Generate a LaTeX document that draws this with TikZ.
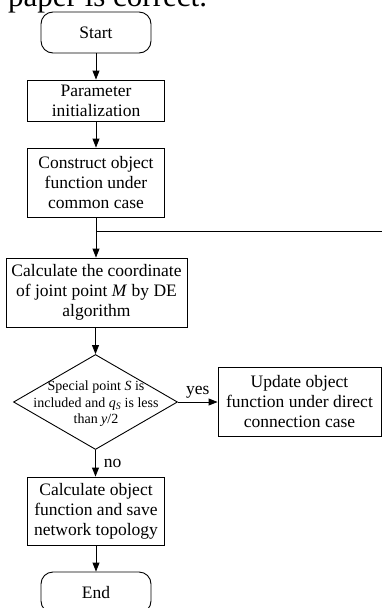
\documentclass[tikz,border=0pt]{standalone}
\usepackage{fontspec}
\setmainfont{Liberation Serif}
\usetikzlibrary{arrows.meta,shapes.geometric}
\begin{document}
\begin{tikzpicture}[x=1pt,y=-1pt,
  every node/.style={font=\fontsize{17.5}{20}\selectfont, align=center, inner sep=0pt},
  box/.style={draw, line width=0.9pt, rectangle},
  term/.style={draw, line width=0.9pt, rectangle, rounded corners=12pt, minimum width=110pt, minimum height=41pt},
  flow/.style={line width=0.9pt, -{Triangle[length=9pt,width=7pt]}},
  plain/.style={line width=0.9pt}]
\clip (0,0) rectangle (382,608);
\node[anchor=base west, font=\fontsize{31}{36}\selectfont] (title) at (8,6) {paper is correct.};
\node[term] (start) at (96,32.5) {Start};
\node[box, minimum width=137pt, minimum height=41pt] (param) at (96,100.5) {Parameter\\initialization};
\node[box, minimum width=137pt, minimum height=69pt] (cons) at (96,182.5) {Construct object\\function under\\common case};
\coordinate (join) at (96,231);
\coordinate (loopin) at (383,231);
\node[box, minimum width=181pt, minimum height=69pt] (calc) at (96.5,292.5) {Calculate the coordinate\\of joint point \textit{M} by DE\\algorithm};
\node[draw, line width=0.9pt, diamond, minimum width=164pt, minimum height=95pt] (dec) at (95.5,402) {};
\node[font=\fontsize{14}{16.5}\selectfont] (dectext) at (96,404) {Special point \textit{S} is\\included and \textit{q}\textsubscript{\textit{S}} is less\\than \textit{y}/2};
\node[box, minimum width=163pt, minimum height=69pt] (upd) at (299.5,401.5) {Update object\\function under direct\\connection case};
\node[box, minimum width=137pt, minimum height=68pt] (res) at (96,511) {Calculate object\\function and save\\network topology};
\node[term] (end) at (96,592.5) {End};
\draw[flow] (start) -- (param);
\draw[flow] (param) -- (cons);
\draw[plain] (cons.south) -- (join);
\draw[plain] (join) -- (loopin);
\draw[flow] (join) -- (calc.north -| join);
\draw[flow] (calc.south -| dec.north) -- (dec.north);
\draw[flow] (dec.east) -- (upd.west |- dec.east) node[midway, above=3pt] (yes) {yes};
\draw[flow] (dec.south) -- (res.north -| dec.south) node[midway, right=8pt] (no) {no};
\draw[flow] (res) -- (end);
\end{tikzpicture}
\end{document}
